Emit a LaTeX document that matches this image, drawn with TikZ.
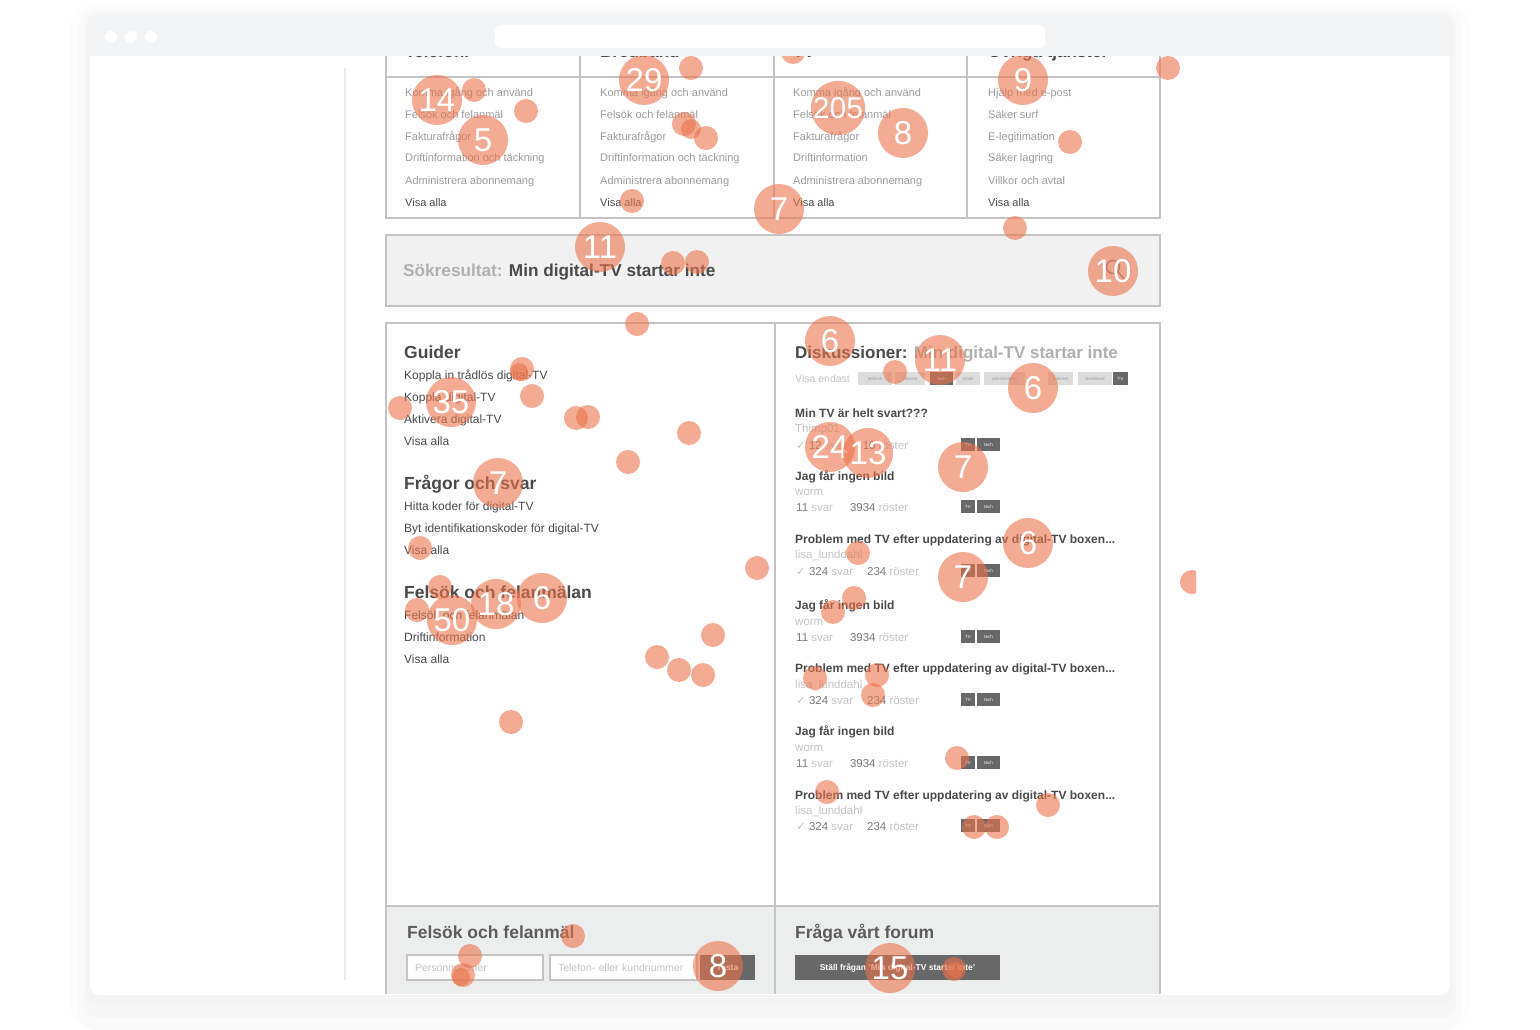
\documentclass[tikz,border=0pt]{standalone}
\usepackage{fontspec}
\setmainfont{Liberation Sans}
\newfontfamily\checkfont{DejaVu Sans}
\usepackage{tikz}
\definecolor{frame}{HTML}{C4C4C4}
\definecolor{barfill}{HTML}{F3F4F6}
\definecolor{boxfill}{HTML}{F1F1F1}
\definecolor{footfill}{HTML}{ECEDED}
\definecolor{darktext}{HTML}{4A4A4A}
\definecolor{midtext}{HTML}{9C9C9C}
\definecolor{lighttext}{HTML}{C4C4C4}
\definecolor{statnum}{HTML}{7A7A7A}
\definecolor{tagfill}{HTML}{DCDCDC}
\definecolor{btnfill}{HTML}{686868}
\definecolor{heatcol}{RGB}{235,115,75}
\tikzstyle{boxline} = [draw=frame, line width=1.3pt]
\tikzstyle{menuhead} = [anchor=base west, inner sep=0pt, font=\fontsize{17}{17}\selectfont\bfseries, text=darktext]
\tikzstyle{menuitem} = [anchor=base west, inner sep=0pt, font=\fontsize{11}{11}\selectfont, text=midtext]
\tikzstyle{menuall} = [menuitem, text=darktext]
\tikzstyle{panelhead} = [anchor=base west, inner sep=0pt, font=\fontsize{17.5}{17.5}\selectfont\bfseries, text=darktext]
\tikzstyle{guide} = [anchor=base west, inner sep=0pt, font=\fontsize{12}{12}\selectfont, text=darktext]
\tikzstyle{thread} = [anchor=base west, inner sep=0pt, font=\fontsize{12}{12}\selectfont\bfseries, text=darktext]
\tikzstyle{user} = [anchor=base west, inner sep=0pt, font=\fontsize{11.5}{11.5}\selectfont, text=lighttext]
\tikzstyle{stats} = [anchor=base west, inner sep=0pt, font=\fontsize{11.5}{11.5}\selectfont, text=lighttext]
\tikzstyle{tagbox} = [rectangle, fill=tagfill, inner sep=0pt, minimum height=13pt, font=\fontsize{4.5}{4.5}\selectfont, text=midtext]
\tikzstyle{darktag} = [tagbox, fill=btnfill, text=white]
\tikzstyle{field} = [rectangle, draw=frame, line width=1.5pt, fill=white, minimum height=25pt, inner xsep=8pt, inner ysep=0pt, align=left, font=\fontsize{10.5}{10.5}\selectfont, text=lighttext]
\tikzstyle{button} = [rectangle, fill=btnfill, minimum height=25pt, inner sep=0pt, text=white, font=\fontsize{8.5}{8.5}\selectfont\bfseries]
\tikzstyle{heat} = [fill=heatcol, opacity=0.6]
\tikzstyle{hotspot} = [circle, fill=heatcol, fill opacity=0.6, text opacity=1, text=white, minimum size=50pt, inner sep=0pt, font=\fontsize{33}{33}\selectfont]
\begin{document}
\begin{tikzpicture}[x=1pt, y=-1pt]
\useasboundingbox (0,0) rectangle (1540,1030);
% window and its shadow
\fill[black, opacity=0.008, rounded corners=24] (70,4) rectangle (1470,1030);
\fill[black, opacity=0.01, rounded corners=18] (78,8) rectangle (1462,1030);
\fill[black, opacity=0.012, rounded corners=14] (84,12) rectangle (1456,1018);
\fill[black, opacity=0.012, rounded corners=12] (87,14) rectangle (1453,1004);
\fill[white, rounded corners=10] (90,16) rectangle (1450,995);

\begin{scope}
\clip (90,56) rectangle (1450,993);
\draw[black!8, line width=1.5pt] (345,68) -- (345,980);

% top menu
\draw[boxline] (386,20) rectangle (1160,218);
\draw[boxline] (386,77) -- (1160,77);
\draw[boxline] (580,20) -- (580,218);
\draw[boxline] (774,20) -- (774,218);
\draw[boxline] (967,20) -- (967,218);

\node[menuhead] (telhead) at (405,58) {Telefoni};
\node[menuitem] (tel1) at (405,97) {Komma igång och använd};
\node[menuitem] (tel2) at (405,119) {Felsök och felanmäl};
\node[menuitem] (tel3) at (405,141) {Fakturafrågor};
\node[menuitem] (tel4) at (405,162) {Driftinformation och täckning};
\node[menuitem] (tel5) at (405,184) {Administrera abonnemang};
\node[menuall] (tel6) at (405,206) {Visa alla};

\node[menuhead] (bbhead) at (600,58) {Bredband};
\node[menuitem] (bb1) at (600,97) {Komma igång och använd};
\node[menuitem] (bb2) at (600,119) {Felsök och felanmäl};
\node[menuitem] (bb3) at (600,141) {Fakturafrågor};
\node[menuitem] (bb4) at (600,162) {Driftinformation och täckning};
\node[menuitem] (bb5) at (600,184) {Administrera abonnemang};
\node[menuall] (bb6) at (600,206) {Visa alla};

\node[menuhead] (tvhead) at (793,58) {TV};
\node[menuitem] (tv1) at (793,97) {Komma igång och använd};
\node[menuitem] (tv2) at (793,119) {Felsök och felanmäl};
\node[menuitem] (tv3) at (793,141) {Fakturafrågor};
\node[menuitem] (tv4) at (793,162) {Driftinformation};
\node[menuitem] (tv5) at (793,184) {Administrera abonnemang};
\node[menuall] (tv6) at (793,206) {Visa alla};

\node[menuhead] (ovhead) at (988,58) {Övriga tjänster};
\node[menuitem] (ov1) at (988,97) {Hjälp med e-post};
\node[menuitem] (ov2) at (988,119) {Säker surf};
\node[menuitem] (ov3) at (988,141) {E-legitimation};
\node[menuitem] (ov4) at (988,162) {Säker lagring};
\node[menuitem] (ov5) at (988,184) {Villkor och avtal};
\node[menuall] (ov6) at (988,206) {Visa alla};

% search result bar
\draw[boxline, fill=boxfill] (386,235) rectangle (1160,306);
\node[panelhead, font=\fontsize{17.2}{17.2}\selectfont\bfseries] (search) at (403,276) {\textcolor{midtext!80}{Sökresultat:} Min digital-TV startar inte};
\draw[statnum, line width=1.3pt] (1113,267) circle (6.5) (1118,272) -- (1125,280);

% main panel
\fill[footfill] (386,906) rectangle (1160,1000);
\draw[boxline] (386,1000) -- (386,323) -- (1160,323) -- (1160,1000);
\draw[boxline] (775,323) -- (775,1000);
\draw[boxline] (386,906) -- (1160,906);

% left column
\node[panelhead] (guider) at (404,358) {Guider};
\node[guide] (g1) at (404,379) {Koppla in trådlös digital-TV};
\node[guide] (g2) at (404,401) {Koppla digital-TV};
\node[guide] (g3) at (404,423) {Aktivera digital-TV};
\node[guide] (g4) at (404,445) {Visa alla};

\node[panelhead] (faq) at (404,489) {Frågor och svar};
\node[guide] (f1) at (404,510) {Hitta koder för digital-TV};
\node[guide] (f2) at (404,532) {Byt identifikationskoder för digital-TV};
\node[guide] (f3) at (404,554) {Visa alla};

\node[panelhead] (fault) at (404,598) {Felsök och felanmälan};
\node[guide] (e1) at (404,619) {Felsök och felanmälan};
\node[guide] (e2) at (404,641) {Driftinformation};
\node[guide] (e3) at (404,663) {Visa alla};

% right column
\node[panelhead, font=\fontsize{17}{17}\selectfont\bfseries] (disc) at (795,358) {Diskussioner: \textcolor{lighttext!90!black}{Min digital-TV startar inte}};
\node[anchor=base west, inner sep=0pt, font=\fontsize{10.5}{10.5}\selectfont, text=lighttext] (only) at (795,382) {Visa endast};
\node[tagbox, minimum width=34pt] (tagA) at (875,378.5) {telefoni};
\node[tagbox, minimum width=30pt] (tagB) at (910,378.5) {fakturor};
\node[darktag, minimum width=23pt] (tagC) at (941.5,378.5) {tech};
\node[tagbox, minimum width=24pt] (tagD) at (968,378.5) {mobil};
\node[tagbox, minimum width=41pt] (tagE) at (1004.5,378.5) {administrera};
\node[tagbox, minimum width=25pt] (tagF) at (1060.5,378.5) {internet};
\node[tagbox, minimum width=34pt] (tagG) at (1095,378.5) {bredband};
\node[darktag, minimum width=15pt] (tagH) at (1120.5,378.5) {TV};

\node[thread] (t1) at (795,417) {Min TV är helt svart???};
\node[user] (u1) at (795,432) {Thimp01};
\node[stats] (s1) at (796,449) {{\checkfont ✓} \textcolor{statnum}{12} svar\hspace{16pt}\textcolor{statnum}{10} röster};
\node[darktag, minimum width=14pt] (tv1) at (968,444.5) {TV};
\node[darktag, minimum width=23pt] (tech1) at (988.5,444.5) {tech};

\node[thread] (t2) at (795,480) {Jag får ingen bild};
\node[user] (u2) at (795,495) {worm};
\node[stats] (s2) at (796,511) {\textcolor{statnum}{11} svar\hspace{17pt}\textcolor{statnum}{3934} röster};
\node[darktag, minimum width=14pt] (tv2) at (968,506.5) {TV};
\node[darktag, minimum width=23pt] (tech2) at (988.5,506.5) {tech};

\node[thread] (t3) at (795,543) {Problem med TV efter uppdatering av digital-TV boxen...};
\node[user] (u3) at (795,558) {lisa\_lunddahl};
\node[stats] (s3) at (796,575) {{\checkfont ✓} \textcolor{statnum}{324} svar\hspace{14pt}\textcolor{statnum}{234} röster};
\node[darktag, minimum width=14pt] (tv3) at (968,570.5) {TV};
\node[darktag, minimum width=23pt] (tech3) at (988.5,570.5) {tech};

\node[thread] (t4) at (795,609) {Jag får ingen bild};
\node[user] (u4) at (795,625) {worm};
\node[stats] (s4) at (796,641) {\textcolor{statnum}{11} svar\hspace{17pt}\textcolor{statnum}{3934} röster};
\node[darktag, minimum width=14pt] (tv4) at (968,636.5) {TV};
\node[darktag, minimum width=23pt] (tech4) at (988.5,636.5) {tech};

\node[thread] (t5) at (795,672) {Problem med TV efter uppdatering av digital-TV boxen...};
\node[user] (u5) at (795,688) {lisa\_lunddahl};
\node[stats] (s5) at (796,704) {{\checkfont ✓} \textcolor{statnum}{324} svar\hspace{14pt}\textcolor{statnum}{234} röster};
\node[darktag, minimum width=14pt] (tv5) at (968,699.5) {TV};
\node[darktag, minimum width=23pt] (tech5) at (988.5,699.5) {tech};

\node[thread] (t6) at (795,735) {Jag får ingen bild};
\node[user] (u6) at (795,751) {worm};
\node[stats] (s6) at (796,767) {\textcolor{statnum}{11} svar\hspace{17pt}\textcolor{statnum}{3934} röster};
\node[darktag, minimum width=14pt] (tv6) at (968,762.5) {TV};
\node[darktag, minimum width=23pt] (tech6) at (988.5,762.5) {tech};

\node[thread] (t7) at (795,799) {Problem med TV efter uppdatering av digital-TV boxen...};
\node[user] (u7) at (795,814) {lisa\_lunddahl};
\node[stats] (s7) at (796,830) {{\checkfont ✓} \textcolor{statnum}{324} svar\hspace{14pt}\textcolor{statnum}{234} röster};
\node[darktag, minimum width=14pt] (tv7) at (968,825.5) {TV};
\node[darktag, minimum width=23pt] (tech7) at (988.5,825.5) {tech};

% footer
\node[panelhead, text=darktext!90] (report) at (407,938) {Felsök och felanmäl};
\node[field, text width=120pt] (pnr) at (475,967.5) {Personnummer};
\node[field, text width=131pt] (phone) at (623.5,967.5) {Telefon- eller kundnummer};
\node[button, minimum width=55pt] (test) at (727.5,967.5) {Testa};
\node[panelhead, text=darktext!90] (forum) at (795,938) {Fråga vårt forum};
\node[button, minimum width=205pt] (ask) at (897.5,967.5) {Ställ frågan 'Min digital-TV startar inte'};

% heatmap
\begin{scope}
\clip (90,56) rectangle (1196,993);
\fill[heat] (474,90) circle (12);
\fill[heat] (526,111) circle (12);
\fill[heat] (691,68) circle (12);
\fill[heat] (684,124) circle (12);
\fill[heat] (691,129) circle (10);
\fill[heat] (706,138) circle (12);
\fill[heat] (1168,68) circle (12);
\fill[heat] (1070,142) circle (12);
\fill[heat] (632,201) circle (12);
\fill[heat] (793,52) circle (12);
\fill[heat] (1015,228) circle (12);
\fill[heat] (673,263) circle (12);
\fill[heat] (697,262) circle (12);
\fill[heat] (637,324) circle (12);
\fill[heat] (522,369) circle (12);
\fill[heat] (519,372) circle (9);
\fill[heat] (532,396) circle (12);
\fill[heat] (400,408) circle (12);
\fill[heat] (576,418) circle (12);
\fill[heat] (588,417) circle (12);
\fill[heat] (689,433) circle (12);
\fill[heat] (628,462) circle (12);
\fill[heat] (420,548) circle (12);
\fill[heat] (757,568) circle (12);
\fill[heat] (1192,582) circle (12);
\fill[heat] (440,587) circle (12);
\fill[heat] (417,610) circle (12);
\fill[heat] (713,635) circle (12);
\fill[heat] (657,657) circle (12);
\fill[heat] (679,670) circle (12);
\fill[heat] (703,675) circle (12);
\fill[heat] (511,722) circle (12);
\fill[heat] (895,372) circle (12);
\fill[heat] (858,553) circle (12);
\fill[heat] (854,598) circle (12);
\fill[heat] (833,612) circle (12);
\fill[heat] (815,678) circle (12);
\fill[heat] (877,675) circle (12);
\fill[heat] (873,695) circle (12);
\fill[heat] (957,758) circle (12);
\fill[heat] (827,792) circle (12);
\fill[heat] (1048,805) circle (12);
\fill[heat] (974,827) circle (12);
\fill[heat] (997,827) circle (12);
\fill[heat] (573,936) circle (12);
\fill[heat] (470,956) circle (12);
\fill[heat] (463,975) circle (12);
\fill[heat] (461,977) circle (9);
\fill[heat] (954,969) circle (12);
\fill[heat] (955,970) circle (8);

\node[hotspot] (hot14) at (437,100) {14};
\node[hotspot] (hot29) at (644,80) {29};
\node[hotspot, minimum size=46pt, font=\fontsize{30}{30}\selectfont] (hot205) at (838,108) {205};
\node[hotspot] (hot8a) at (903,133) {8};
\node[hotspot] (hot9) at (1023,80) {9};
\node[hotspot] (hot5) at (483,140) {5};
\node[hotspot] (hot7a) at (779,209) {7};
\node[hotspot] (hot11a) at (600,247) {11};
\node[hotspot] (hot10) at (1113,271) {10};
\node[hotspot] (hot6a) at (830,341) {6};
\node[hotspot] (hot11b) at (940,360) {11};
\node[hotspot] (hot6b) at (1033,388) {6};
\node[hotspot] (hot35) at (451,402) {35};
\node[hotspot] (hot24) at (830,447) {24};
\node[hotspot] (hot13) at (868,453) {13};
\node[hotspot] (hot7b) at (963,467) {7};
\node[hotspot] (hot7c) at (498,483) {7};
\node[hotspot] (hot6c) at (1028,543) {6};
\node[hotspot] (hot7d) at (963,577) {7};
\node[hotspot] (hot18) at (496,604) {18};
\node[hotspot] (hot6d) at (542,598) {6};
\node[hotspot] (hot50) at (452,620) {50};
\node[hotspot] (hot8b) at (718,966) {8};
\node[hotspot] (hot15) at (890,968) {15};
\end{scope}
\end{scope}

% title bar
\begin{scope}
\clip (90,16) rectangle (1450,56);
\fill[barfill, rounded corners=10] (90,16) rectangle (1450,80);
\end{scope}
\fill[white] (111,37) circle (6) (131,37) circle (6) (151,37) circle (6);
\fill[white, rounded corners=5] (495,25) rectangle (1045,48);
\end{tikzpicture}
\end{document}
